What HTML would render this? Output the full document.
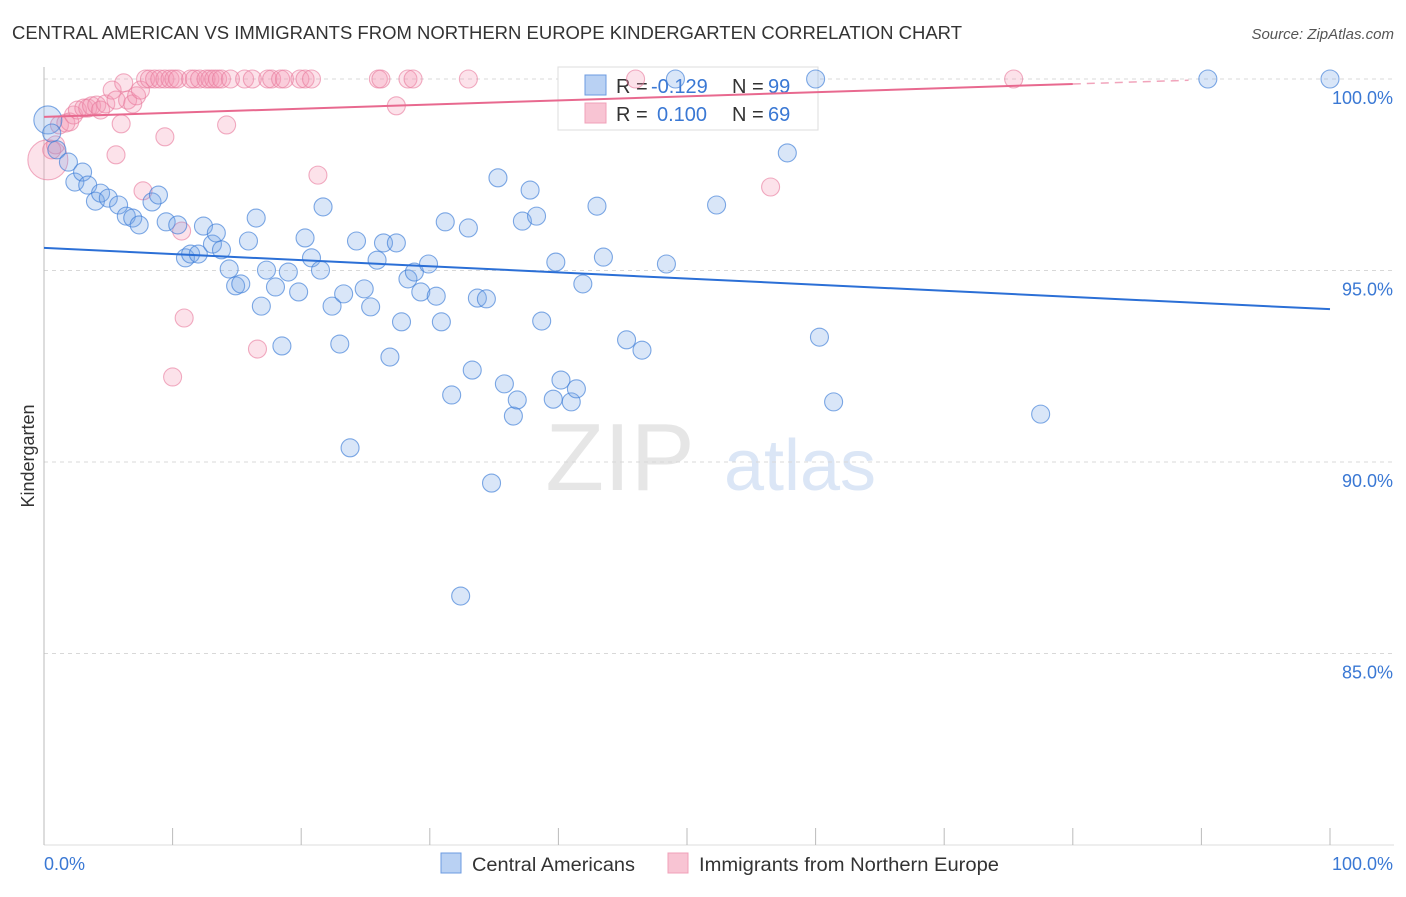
<!DOCTYPE html>
<html><head><meta charset="utf-8"><style>
body{margin:0;background:#fff;font-family:"Liberation Sans",sans-serif;}
svg text{font-family:"Liberation Sans",sans-serif;}
</style></head><body>
<svg id="chart" width="1406" height="892" viewBox="0 0 1406 892" xmlns="http://www.w3.org/2000/svg">
<text x="12" y="39" font-size="18" fill="#333" textLength="950" lengthAdjust="spacingAndGlyphs">CENTRAL AMERICAN VS IMMIGRANTS FROM NORTHERN EUROPE KINDERGARTEN CORRELATION CHART</text>
<text x="1394" y="39" font-size="15" fill="#555" font-style="italic" text-anchor="end">Source: ZipAtlas.com</text>
<text x="620" y="490" font-size="96" fill="#e6e6e6" font-family="Liberation Serif" text-anchor="middle">ZIP</text>
<text x="800" y="490" font-size="72" fill="#dbe6f6" text-anchor="middle">atlas</text>
<g id="grid"></g>
<g id="axes"></g>
<g id="legend">
<rect x="558" y="67" width="260" height="63" fill="#fff" stroke="#ddd"/>
<rect x="585" y="75" width="21" height="20" fill="#b9d1f3" stroke="#6c9be0"/>
<text x="616" y="93" font-size="20" fill="#333">R = <tspan fill="#3a78d4" x="651">-0.129</tspan><tspan x="732">N = </tspan><tspan fill="#3a78d4" x="768">99</tspan></text>
<rect x="585" y="103" width="21" height="20" fill="#f8c4d3" stroke="#f0a0b8"/>
<text x="616" y="121" font-size="20" fill="#333">R = <tspan fill="#3a78d4" x="657">0.100</tspan><tspan x="732">N = </tspan><tspan fill="#3a78d4" x="768">69</tspan></text>
</g>
<g id="points"></g>
<g id="lines"></g>
<text transform="translate(34,456) rotate(-90)" font-size="18" fill="#333" text-anchor="middle">Kindergarten</text>
<rect x="441" y="853" width="20" height="20" fill="#b9d1f3" stroke="#6c9be0"/>
<text x="472" y="871" font-size="19" fill="#333" textLength="163" lengthAdjust="spacingAndGlyphs">Central Americans</text>
<rect x="668" y="853" width="20" height="20" fill="#f8c4d3" stroke="#f0a0b8"/>
<text x="699" y="871" font-size="19" fill="#333" textLength="300" lengthAdjust="spacingAndGlyphs">Immigrants from Northern Europe</text>
</svg>
<script>
const yTicks=[100,95,90,85];
const yTickLabels=["100.0%","95.0%","90.0%","85.0%"];
const xTicks=[0,10,20,30,40,50,60,70,80,90,100];
const xEdgeLabels=["0.0%","100.0%"];
const blueX=[0.3,0.6,1.0,1.9,2.4,3.0,3.4,4.0,4.4,5.0,5.8,6.4,6.9,7.4,8.4,8.9,9.5,10.4,11.0,11.4,12.0,12.4,13.1,13.4,13.8,14.4,14.9,15.3,15.9,16.5,16.9,17.3,18.0,18.5,19.0,19.8,20.3,20.8,21.5,21.7,22.4,23.0,23.3,24.3,24.9,25.4,25.9,26.4,26.9,27.4,27.8,28.3,28.8,29.3,29.9,30.5,30.9,31.2,31.7,32.4,33.0,33.3,33.7,34.4,34.8,35.3,35.8,36.5,36.8,37.2,37.8,38.3,38.7,39.6,39.8,40.2,41.0,41.4,41.9,43.0,43.5,45.3,46.5,48.4,52.3,57.8,60.0,60.3,61.4,77.5,90.5,100,23.8,49.1];
const blueY=[98.93,98.59,98.15,97.83,97.31,97.57,97.23,96.81,97.02,96.89,96.71,96.42,96.37,96.19,96.79,96.97,96.27,96.19,95.33,95.43,95.43,96.16,95.69,95.98,95.54,95.04,94.60,94.65,95.77,96.37,94.07,95.01,94.57,93.03,94.96,94.44,95.85,95.33,95.01,96.66,94.07,93.08,94.39,95.77,94.52,94.05,95.27,95.72,92.74,95.72,93.66,94.78,94.96,94.44,95.17,94.33,93.66,96.27,91.75,86.50,96.11,92.40,94.28,94.26,89.45,97.42,92.04,91.20,91.62,96.29,97.10,96.42,93.68,91.64,95.22,92.14,91.57,91.91,94.65,96.68,95.35,93.19,92.92,95.17,96.71,98.07,100,93.26,91.57,91.25,100,100,90.37,100];
const pinkX=[0.3,0.6,0.9,1.2,1.7,2.0,2.3,2.6,3.1,3.4,3.7,4.1,4.4,4.8,5.3,5.6,6.0,5.6,6.2,6.5,6.9,7.2,7.5,7.7,7.9,8.2,8.6,9.0,9.4,9.8,10.1,10.4,10.7,10.9,10.0,9.4,11.4,11.7,12.1,12.6,12.9,13.2,13.5,13.8,14.2,14.5,15.6,16.2,16.6,17.4,17.7,18.4,18.7,19.9,20.3,20.8,21.3,26.0,26.2,27.4,28.3,28.7,33.0,46.0,56.5,75.4];
const pinkY=[97.89,98.15,98.28,98.80,98.85,98.88,99.06,99.19,99.24,99.24,99.30,99.32,99.19,99.35,99.71,99.45,98.83,98.02,99.90,99.45,99.35,99.56,99.71,97.08,100,100,100,100,100,100,100,100,96.03,93.76,92.22,98.49,100,100,100,100,100,100,100,100,98.80,100,100,100,92.95,100,100,100,100,100,100,100,97.49,100,100,99.30,100,100,100,100,97.18,100];
const blueTrend=[95.59,93.99];
const pinkTrend=[99.01,99.87];

const NS="http://www.w3.org/2000/svg";
const X0=44,X1=1330,YTOP=79,PER=38.3;
const xs=v=>X0+(X1-X0)*v/100;
const ys=v=>YTOP+(100-v)*PER;
function mk(tag,attrs,parent){const e=document.createElementNS(NS,tag);for(const k in attrs)e.setAttribute(k,attrs[k]);parent.appendChild(e);return e;}
const grid=document.getElementById('grid'),axes=document.getElementById('axes'),pts=document.getElementById('points'),lines=document.getElementById('lines');
yTicks.forEach((t,i)=>{
  const l=mk('line',{x1:X0,x2:1394,y1:ys(t),y2:ys(t),stroke:'#d8d8d8','stroke-dasharray':'4,4'},grid);
  
  
  const tx=mk('text',{x:1393,y:ys(t)+25,'font-size':18,fill:'#3a78d4','text-anchor':'end'},axes);
  tx.textContent=yTickLabels[i];
  
  
});
const ax=mk('line',{x1:X0,x2:X0,y1:67,y2:845,stroke:'#bbb'},axes);


const bx=mk('line',{x1:X0,x2:1394,y1:845,y2:845,stroke:'#ddd'},axes);


xTicks.forEach(t=>{
  const l=mk('line',{x1:xs(t),x2:xs(t),y1:828,y2:845,stroke:'#bbb'},axes);
  
  
});
[[0,'start',44],[100,'end',1393]].forEach((d,i)=>{
  const tx=mk('text',{x:d[2],y:870,'font-size':18,fill:'#3a78d4','text-anchor':d[1]},axes);
  tx.textContent=xEdgeLabels[i];
  
  
});
function drawPts(X,Y,fill,stroke,name,big){
  X.forEach((x,i)=>{
    const c=mk('circle',{cx:xs(x),cy:ys(Y[i]),r:i===0?big:9,fill:fill,stroke:stroke,'stroke-width':1.1},pts);
    
    
  });
}
drawPts(pinkX,pinkY,'rgba(244,150,178,0.28)','rgba(232,120,155,0.6)','point-northern-europe',20);
drawPts(blueX,blueY,'rgba(120,165,230,0.28)','rgba(60,125,215,0.65)','point-central-american',14);
const bl=mk('line',{x1:X0,y1:ys(blueTrend[0]),x2:X1,y2:ys(blueTrend[1]),stroke:'#2b6fd6','stroke-width':2},lines);


const xe=80.0;
const pl=mk('line',{x1:X0,y1:ys(pinkTrend[0]),x2:xs(xe),y2:ys(pinkTrend[1]),stroke:'#e8698f','stroke-width':2},lines);


const slope=(pinkTrend[1]-pinkTrend[0])/xe;
const pd=mk('line',{x1:xs(xe),y1:ys(pinkTrend[1]),x2:xs(89),y2:ys(pinkTrend[1]+slope*9),stroke:'#e8698f','stroke-width':1.5,'stroke-dasharray':'8,6',opacity:0.6},lines);


</script>
</body></html>
